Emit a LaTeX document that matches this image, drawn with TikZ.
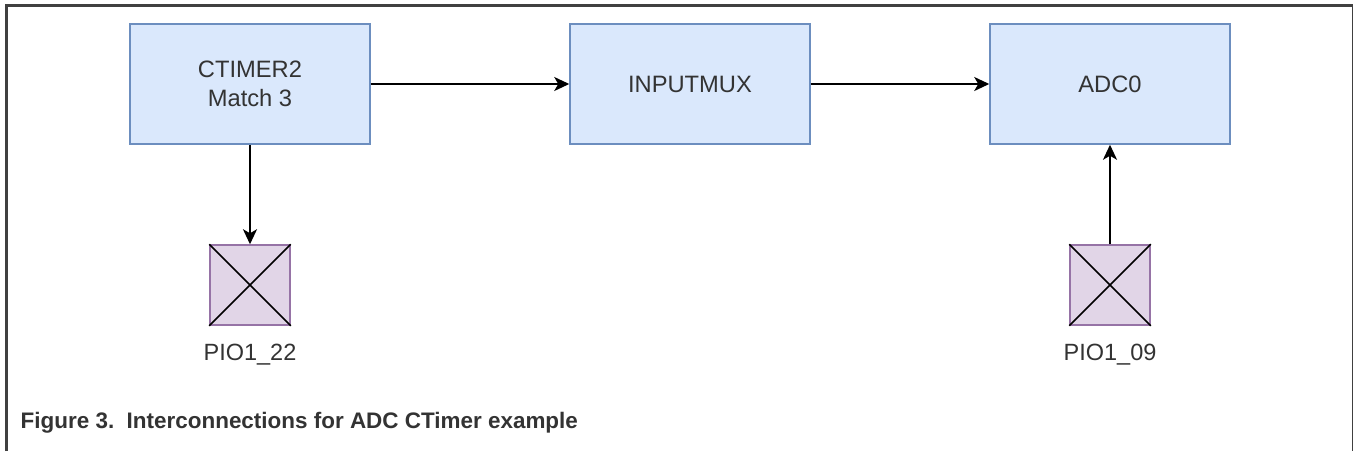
\documentclass[tikz,border=0pt]{standalone}
\usepackage{fontspec}
\setmainfont{Liberation Sans}
\usetikzlibrary{arrows.meta}
\definecolor{boxfill}{HTML}{DAE8FC}
\definecolor{boxline}{HTML}{6C8EBF}
\definecolor{pinfill}{HTML}{E1D5E7}
\definecolor{pinline}{HTML}{9673A6}
\definecolor{txt}{HTML}{333333}
\definecolor{frame}{HTML}{404040}
\tikzset{
  blockbox/.style={draw=boxline, fill=boxfill, line width=1.5pt, minimum width=240pt, minimum height=120pt, inner sep=0pt, align=center, text=txt, font=\fontsize{23.7}{29}\selectfont},
  pinbox/.style={draw=pinline, fill=pinfill, line width=1.5pt, minimum width=80pt, minimum height=80pt, inner sep=0pt},
  pinlabel/.style={anchor=base, text=txt, inner sep=0pt, font=\fontsize{23.5}{28}\selectfont},
  conn/.style={draw=black, line width=2pt, -{Stealth[length=15pt, width=14pt, inset=4pt]}},
}
\begin{document}
\begin{tikzpicture}[x=1pt, y=-1pt]
\useasboundingbox (0,0) rectangle (1353,451);
% frame
\draw[frame, line width=2.6pt] (6.5,451) -- (6.5,5.3) -- (1353,5.3);
\draw[frame, line width=1pt] (1352,5.3) -- (1352,451);
% blocks
\node[blockbox] (ct) at (250,84) {CTIMER2\\Match 3};
\node[blockbox] (mux) at (690,84) {INPUTMUX};
\node[blockbox] (adc) at (1110,84) {ADC0};
% pins
\node[pinbox] (p22) at (250,285) {};
\draw[line width=1.6pt] (p22.north west) -- (p22.south east) (p22.north east) -- (p22.south west);
\node[pinbox] (p09) at (1110,285) {};
\draw[line width=1.6pt] (p09.north west) -- (p09.south east) (p09.north east) -- (p09.south west);
\node[pinlabel] (l22) at (250,360) {PIO1\_22};
\node[pinlabel] (l09) at (1110,360) {PIO1\_09};
% connectors
\draw[conn] (ct.east) -- (mux.west);
\draw[conn] (mux.east) -- (adc.west);
\draw[conn] (ct.south) -- (p22.north);
\draw[conn] (p09.north) -- (adc.south);
% caption
\node[anchor=base west, inner sep=0pt, text=txt, font=\bfseries\fontsize{22.45}{26}\selectfont] (cap) at (20.5,428.5) {Figure 3.\hspace{0.556em}Interconnections for ADC CTimer example};
\end{tikzpicture}
\end{document}
